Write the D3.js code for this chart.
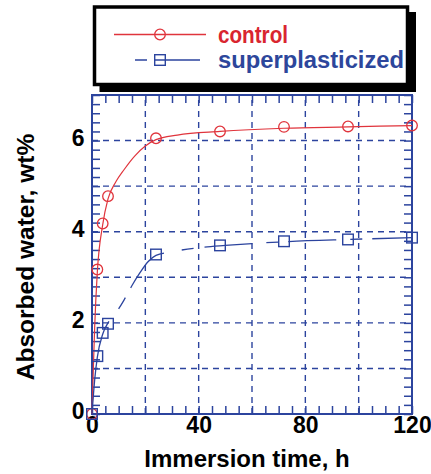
<!DOCTYPE html>
<html>
<head>
<meta charset="utf-8">
<script src="https://cdn.jsdelivr.net/npm/d3@7"></script>
<style>
  html, body { margin: 0; padding: 0; background: #fff; }
  svg { display: block; font-family: "Liberation Sans", Arial, sans-serif; }
</style>
</head>
<body>
<svg id="chart" width="431" height="474"></svg>
<script>
// ---- Data ----
const times = [0, 2, 4, 6, 24, 48, 72, 96, 120];
const controlValues = [0, 3.17, 4.18, 4.78, 6.05, 6.2, 6.3, 6.31, 6.33];
const superValues = [0, 1.27, 1.78, 1.98, 3.5, 3.7, 3.79, 3.83, 3.87];

// fitted curves
const fitTimesControl = [0, 0.5, 1, 2, 4, 6, 9, 12, 16, 20, 24, 32, 48, 72, 96, 120];
const fitControl = [0, 1.0, 1.9, 3.12, 4.15, 4.72, 5.1, 5.36, 5.66, 5.88, 6.02, 6.12, 6.2, 6.27, 6.3, 6.33];
const fitTimesSuper = [0, 1, 2, 4, 6, 9, 12, 15, 18, 21, 24, 30, 40, 50, 60, 72, 96, 120];
const fitSuper = [0, 0.75, 1.25, 1.75, 2.0, 2.22, 2.5, 2.82, 3.1, 3.34, 3.48, 3.56, 3.65, 3.7, 3.74, 3.78, 3.83, 3.87];

const xTickLabels = [0, 40, 80, 120];
const yTickLabels = [0, 2, 4, 6];
const xGrid = [20, 40, 60, 80, 100];
const yGrid = [1, 2, 3, 4, 5, 6];
const seriesNames = ["control", "superplasticized"];

// ---- Styles ----
const BLUE = "#2c449e";
const RED = "#d9252f";
const RED_LINE = "#e0343c";
const BLUE_TEXT = "#2d469b";

const svg = d3.select("#chart");
const x = d3.scaleLinear().domain([0, 120]).range([92, 412]);
const y = d3.scaleLinear().domain([0, 7]).range([414, 95]);

// grid
svg.append("g").selectAll("line").data(xGrid).join("line")
  .attr("x1", d => x(d)).attr("x2", d => x(d))
  .attr("y1", y(0)).attr("y2", y(7))
  .attr("stroke", BLUE).attr("stroke-width", 1.4).attr("stroke-dasharray", "6,5");
svg.append("g").selectAll("line").data(yGrid).join("line")
  .attr("x1", x(0)).attr("x2", x(120))
  .attr("y1", d => y(d)).attr("y2", d => y(d))
  .attr("stroke", BLUE).attr("stroke-width", 1.4).attr("stroke-dasharray", "6,5");

// minor ticks (inward) on all four sides
const xMinor = d3.range(0, 121, 5);
const yMinor = d3.range(0, 36).map(i => +(i * 0.2).toFixed(2));
function styleAxis(g) {
  g.select(".domain").remove();
  g.selectAll(".tick line").attr("stroke", BLUE).attr("stroke-width", 1.5);
  g.selectAll(".tick text").remove();
}
svg.append("g").attr("transform", `translate(0,${y(0)})`)
  .call(d3.axisBottom(x).tickValues(xMinor).tickSize(-8).tickFormat("")).call(styleAxis);
svg.append("g").attr("transform", `translate(0,${y(7)})`)
  .call(d3.axisTop(x).tickValues(xMinor).tickSize(-8).tickFormat("")).call(styleAxis);
svg.append("g").attr("transform", `translate(${x(0)},0)`)
  .call(d3.axisLeft(y).tickValues(yMinor).tickSize(-8).tickFormat("")).call(styleAxis);
svg.append("g").attr("transform", `translate(${x(120)},0)`)
  .call(d3.axisRight(y).tickValues(yMinor).tickSize(-8).tickFormat("")).call(styleAxis);

// frame
svg.append("rect")
  .attr("x", x(0)).attr("y", y(7))
  .attr("width", x(120) - x(0)).attr("height", y(0) - y(7))
  .attr("fill", "none").attr("stroke", BLUE).attr("stroke-width", 2);

// tick labels
const xLab = svg.append("g").attr("transform", `translate(0,${y(0)})`)
  .call(d3.axisBottom(x).tickValues(xTickLabels).tickSize(0).tickPadding(3).tickFormat(d3.format("d")));
xLab.select(".domain").remove();
xLab.selectAll("text").attr("font-size", 23).attr("font-weight", "bold")
  .attr("font-family", "Liberation Sans, Arial, sans-serif").attr("fill", "#000");

const yLab = svg.append("g").attr("transform", `translate(${x(0)},0)`)
  .call(d3.axisLeft(y).tickValues(yTickLabels).tickSize(0).tickPadding(7.5).tickFormat(d3.format("d")));
yLab.select(".domain").remove();
yLab.selectAll("text").attr("font-size", 23).attr("font-weight", "bold").attr("dy", "0.2em")
  .attr("font-family", "Liberation Sans, Arial, sans-serif").attr("fill", "#000");

// axis titles
svg.append("text").attr("x", 247).attr("y", 467)
  .attr("text-anchor", "middle").attr("font-size", 24).attr("font-weight", "bold")
  .text("Immersion time, h");
svg.append("text").attr("transform", "translate(34,257) rotate(-90)")
  .attr("text-anchor", "middle").attr("font-size", 24.5).attr("font-weight", "bold")
  .text("Absorbed water, wt%");

// fit curves
const line = d3.line().x(d => x(d[0])).y(d => y(d[1])).curve(d3.curveMonotoneX);
svg.append("path")
  .datum(fitTimesControl.map((t, i) => [t, fitControl[i]]))
  .attr("d", line).attr("fill", "none").attr("stroke", RED_LINE).attr("stroke-width", 1.2);
svg.append("path")
  .datum(fitTimesSuper.map((t, i) => [t, fitSuper[i]]))
  .attr("d", line).attr("fill", "none").attr("stroke", BLUE).attr("stroke-width", 1.3)
  .attr("stroke-dasharray", "95,16,13,11,50,18,12,11,48,14,12,10,48,14,12,10,48,14,12,10");

// markers
svg.append("g").selectAll("circle").data(times).join("circle")
  .attr("cx", d => x(d)).attr("cy", (d, i) => y(controlValues[i])).attr("r", 5.3)
  .attr("fill", "none").attr("stroke", RED_LINE).attr("stroke-width", 1.3);
svg.append("g").selectAll("rect").data(times).join("rect")
  .attr("x", d => x(d) - 5.3).attr("y", (d, i) => y(superValues[i]) - 5.3)
  .attr("width", 10.6).attr("height", 10.6)
  .attr("fill", "none").attr("stroke", BLUE).attr("stroke-width", 1.4);

// legend
const lg = svg.append("g");
lg.append("rect").attr("x", 99.5).attr("y", 12).attr("width", 316.5).attr("height", 80).attr("fill", "#000");
lg.append("rect").attr("x", 94.5).attr("y", 7).attr("width", 313).attr("height", 77.5)
  .attr("fill", "#fff").attr("stroke", "#000").attr("stroke-width", 3.5);
lg.append("line").attr("x1", 114).attr("x2", 206).attr("y1", 34.5).attr("y2", 34.5)
  .attr("stroke", RED_LINE).attr("stroke-width", 1.3);
lg.append("circle").attr("cx", 160).attr("cy", 34.5).attr("r", 5.3)
  .attr("fill", "none").attr("stroke", RED_LINE).attr("stroke-width", 1.3);
lg.append("line").attr("x1", 135).attr("x2", 200).attr("y1", 60).attr("y2", 60)
  .attr("stroke", BLUE).attr("stroke-width", 1.3).attr("stroke-dasharray", "12,8,60");
lg.append("rect").attr("x", 154.7).attr("y", 54.7).attr("width", 10.6).attr("height", 10.6)
  .attr("fill", "none").attr("stroke", BLUE).attr("stroke-width", 1.4);
lg.append("text").attr("x", 218).attr("y", 42.5).attr("font-size", 23).attr("font-weight", "bold")
  .attr("fill", RED).attr("textLength", 70).attr("lengthAdjust", "spacingAndGlyphs").text(seriesNames[0]);
lg.append("text").attr("x", 218).attr("y", 67.5).attr("font-size", 23).attr("font-weight", "bold")
  .attr("fill", BLUE_TEXT).attr("textLength", 186).attr("lengthAdjust", "spacingAndGlyphs").text(seriesNames[1]);
</script>
</body>
</html>
